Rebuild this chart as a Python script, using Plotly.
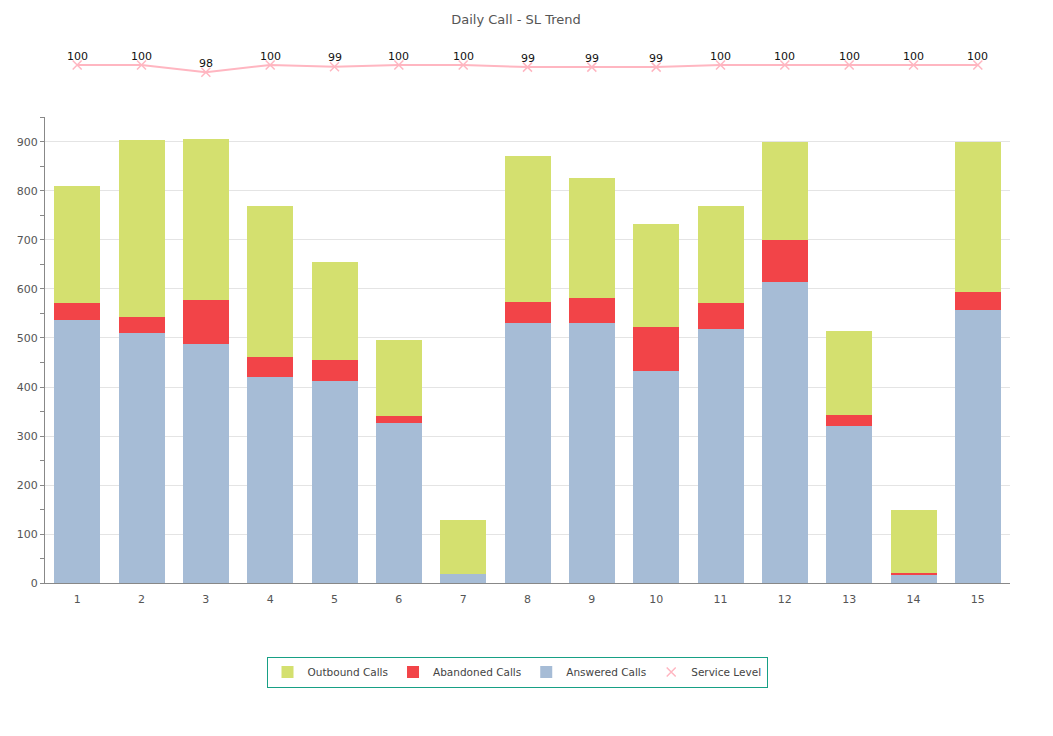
import plotly.graph_objects as go

days = list(range(1, 16))
answered = [537, 511, 488, 421, 413, 327, 18, 531, 531, 433, 519, 615, 321, 17, 558]
abandoned = [35, 32, 90, 41, 43, 13, 0, 43, 51, 90, 53, 85, 21, 4, 36]
outbound = [238, 362, 329, 308, 200, 156, 111, 298, 245, 210, 198, 200, 173, 129, 305]
service_level = [100, 100, 97.6, 100, 99.4, 100, 100, 99.3, 99.3, 99.3, 100, 100, 100, 100, 100]

FONT = "DejaVu Sans"
PINK = "#FFB6C1"
OFF = 8  # default page body margin

fig = go.Figure()
fig.add_trace(go.Bar(x=days, y=answered, name="Answered Calls",
                     marker=dict(color="#A6BCD6", line=dict(width=0)), legendrank=3))
fig.add_trace(go.Bar(x=days, y=abandoned, name="Abandoned Calls",
                     marker=dict(color="#F24448", line=dict(width=0)), legendrank=2))
fig.add_trace(go.Bar(x=days, y=outbound, name="Outbound Calls",
                     marker=dict(color="#D4E06F", line=dict(width=0)), legendrank=1))
fig.add_trace(go.Scatter(x=days, y=service_level, yaxis="y2", mode="lines", showlegend=False,
                         line=dict(color=PINK, width=2), cliponaxis=False, hoverinfo="skip"))
fig.add_trace(go.Scatter(x=days, y=service_level, name="Service Level", yaxis="y2", mode="markers",
                         marker=dict(symbol="x-thin", size=9, color=PINK, line=dict(color=PINK, width=1.5)),
                         legendrank=4, cliponaxis=False))

for d, v in zip(days, service_level):
    fig.add_annotation(x=d, y=v, xref="x", yref="y2", text=f"{v:.0f}", showarrow=False,
                       yshift=9, yanchor="middle", font=dict(family=FONT, size=11, color="#111"))

W, H = 1053, 736
l = 45 - OFF
r = W - (1010 - OFF)
t = 40 - OFF
b = H - (583 - OFF)
ph = H - t - b  # 543

fig.update_layout(
    width=W, height=H,
    margin=dict(l=l, r=r, t=t, b=b, autoexpand=False),
    paper_bgcolor="white", plot_bgcolor="white",
    barmode="stack", bargap=0.285,
    font=dict(family=FONT, size=11, color="#555"),
    title=dict(text="Daily Call - SL Trend", x=(516 - OFF) / W, xref="container", xanchor="center",
               y=1 - (19 - OFF) / H, yref="container", yanchor="middle",
               font=dict(family=FONT, size=13, color="#555")),
    xaxis=dict(type="linear", range=[0.5, 15.5], tickmode="array", tickvals=days,
               ticktext=[str(d) for d in days], showline=True, linecolor="#888", linewidth=1, ticks="",
               ticklabelstandoff=6, automargin=False, zeroline=False,
               showgrid=False, tickfont=dict(size=11, color="#555"), fixedrange=True),
    yaxis=dict(domain=[0, 466 / ph], range=[0, 951], dtick=100, showline=True, linecolor="#888",
               linewidth=1, ticks="outside", ticklen=4, tickcolor="#888", automargin=False,
               minor=dict(dtick=50, ticks="outside", ticklen=4, tickcolor="#888", showgrid=False),
               showgrid=True, gridcolor="#e4e4e4", gridwidth=1, zeroline=False,
               tickfont=dict(size=11, color="#555")),
    yaxis2=dict(domain=[(583 - 77) / ph, (583 - 59) / ph], range=[96, 102], anchor="x", visible=False,
                showgrid=False, zeroline=False),
    legend=dict(orientation="h", x=(517 - 45) / 965, xanchor="center", y=(583 - 672) / ph, yanchor="middle",
                bordercolor="#17a085", borderwidth=1, bgcolor="white", itemwidth=30,
                font=dict(family=FONT, size=10.5, color="#444"), traceorder="normal"),
    showlegend=True,
)

fig.write_html("out.html")
